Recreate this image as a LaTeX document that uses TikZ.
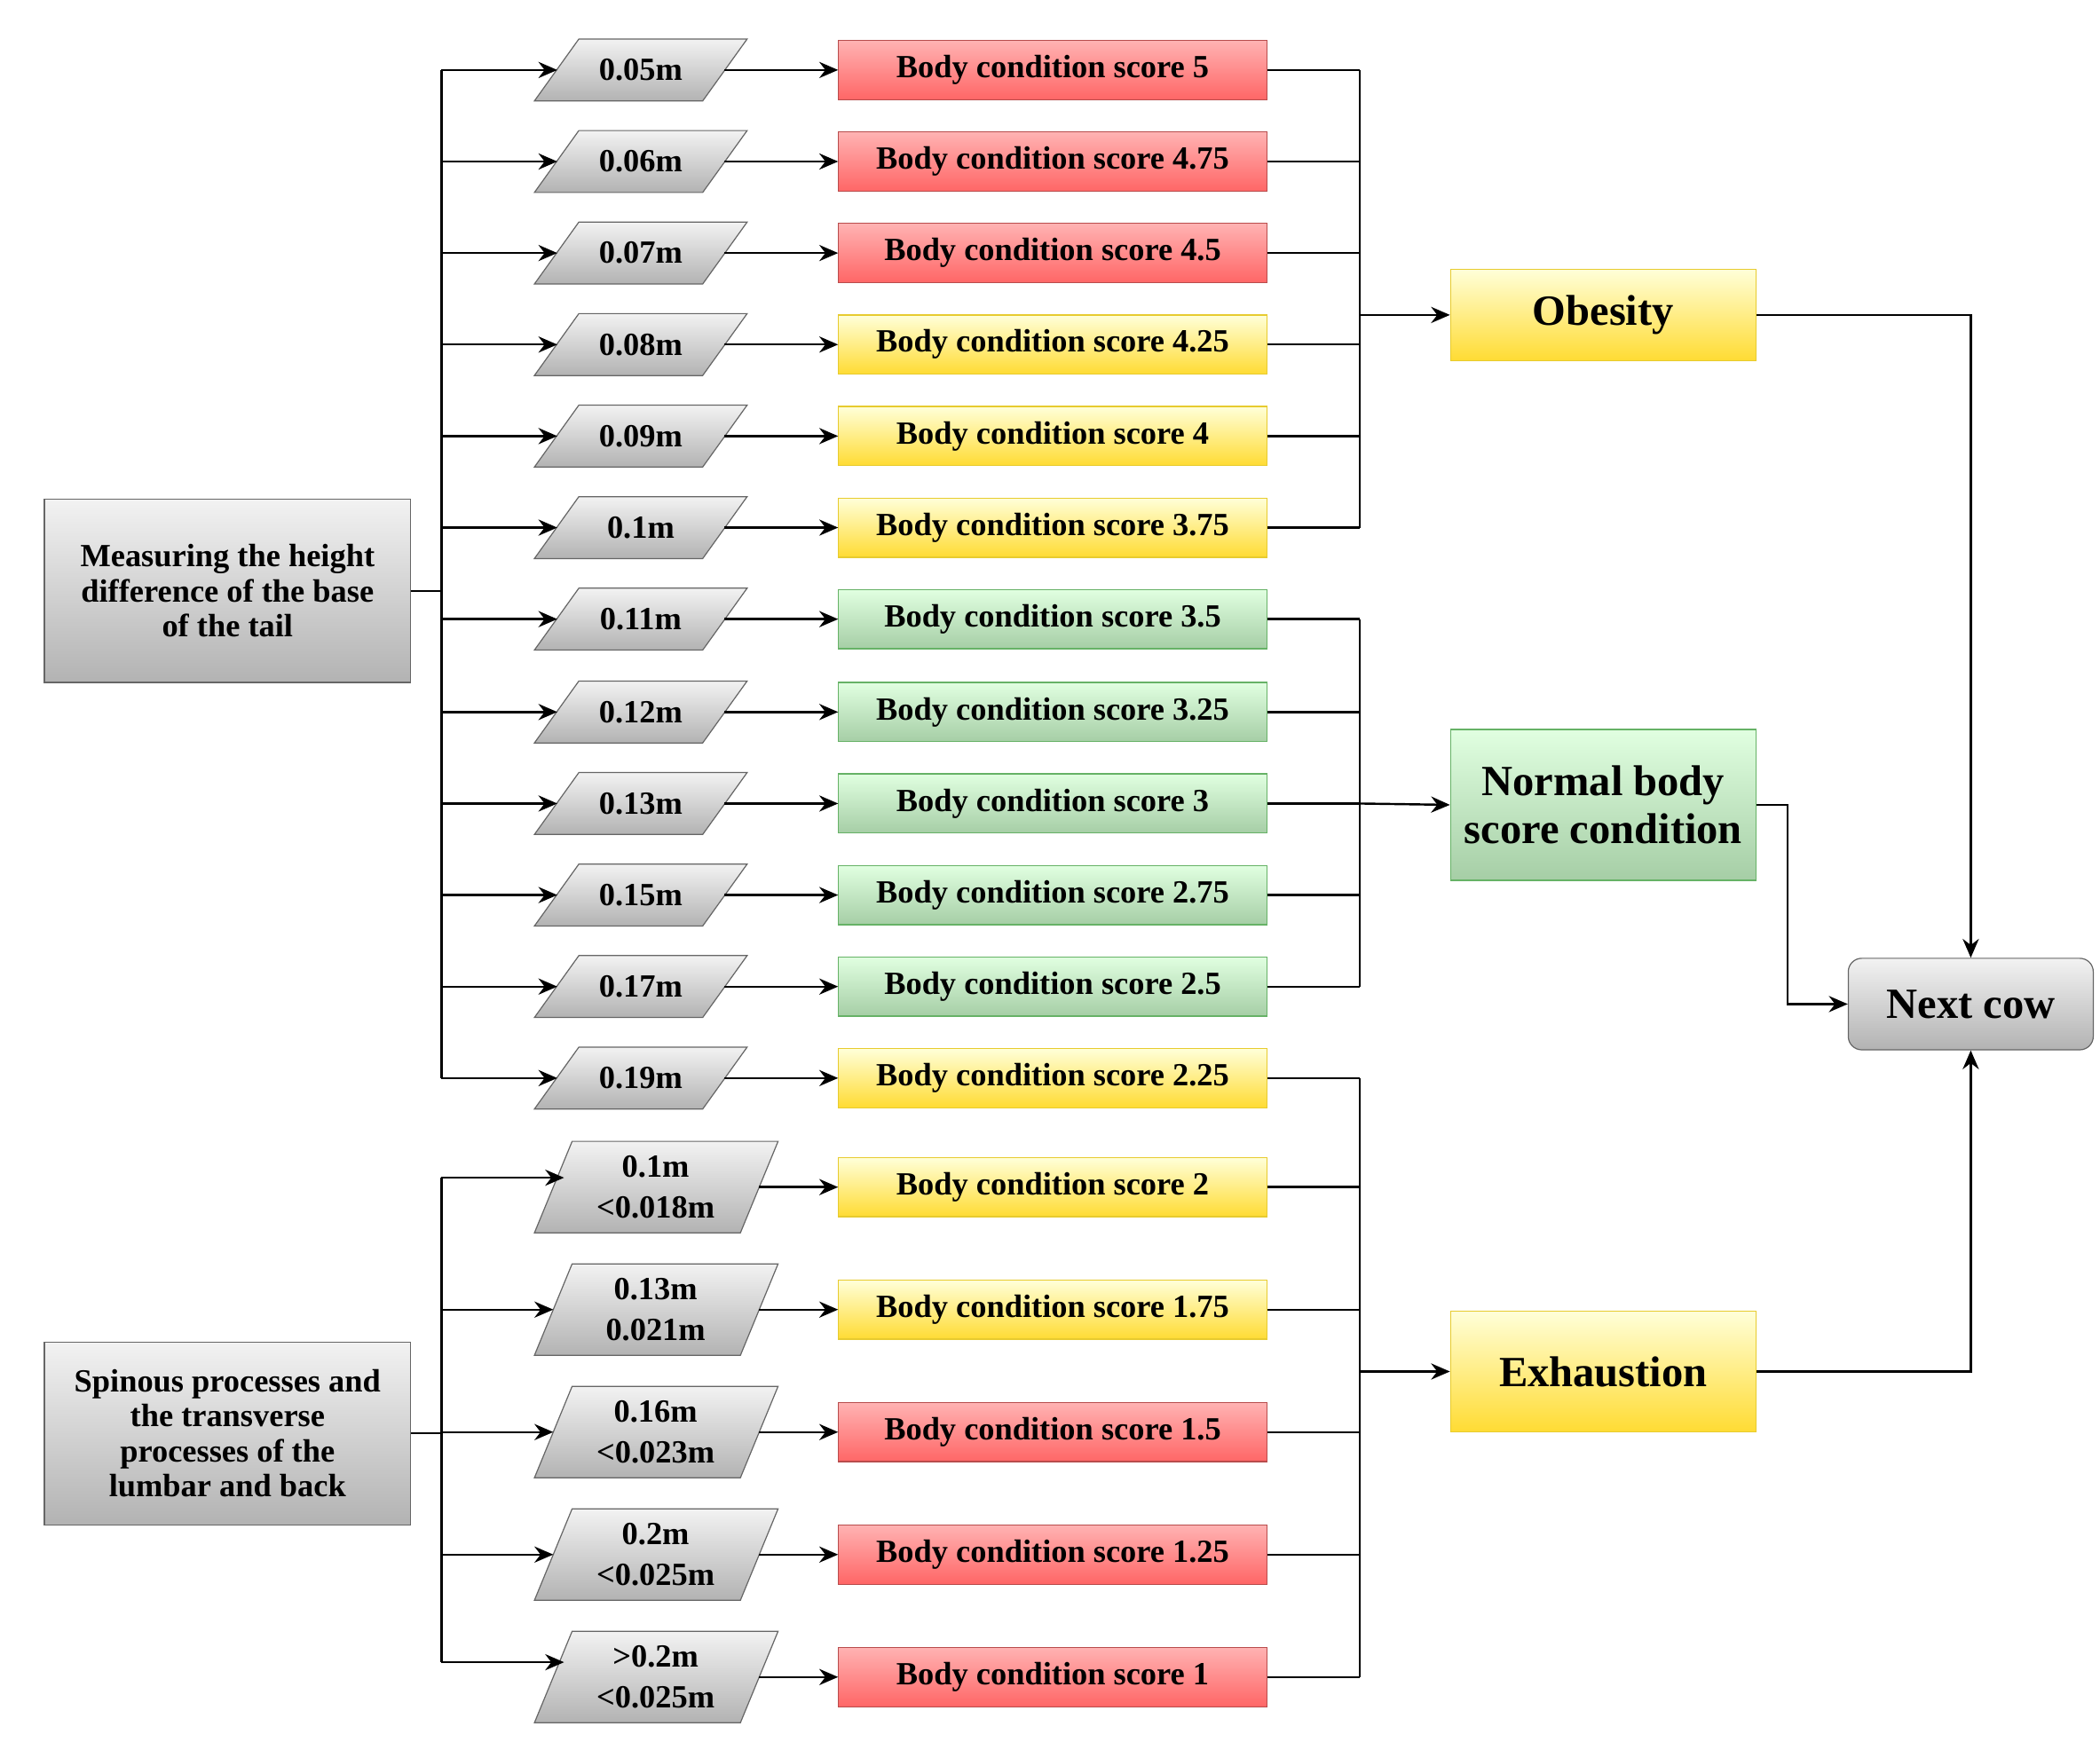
\documentclass[tikz,border=0pt]{standalone}
\usepackage{fontspec}
\setmainfont{Liberation Serif}
\usetikzlibrary{arrows.meta}
\begin{document}
\begin{tikzpicture}[x=0.5pt,y=-0.5pt,
  font=\bfseries\fontsize{12}{13}\selectfont,
  red/.style={draw=red!60!black!70, top color=red!30, bottom color=red!60!white, shading angle=0},
  ylw/.style={draw=yellow!60!brown, top color=yellow!15, bottom color=yellow!65!orange!80},
  grn/.style={draw=green!50!black!60, top color=green!12, bottom color=green!45!black!35!white},
  gry/.style={draw=black!60, top color=black!5, bottom color=black!30},
  sc/.style={minimum width=159pt, minimum height=22pt, inner sep=0pt},
  big/.style={font=\bfseries\fontsize{16}{18}\selectfont, minimum width=113.5pt, inner sep=1pt, align=center},
  arr/.style={-{Stealth[length=7pt,width=6pt]}, line width=0.8pt},
  ln/.style={line width=0.8pt}]
\useasboundingbox (0,0) rectangle (1560,1300);
% left boxes
\node[gry, minimum width=136pt, minimum height=68pt, align=center, inner sep=1pt] (m1) at (169,439) {Measuring the height\\difference of the base\\of the tail};
\node[gry, minimum width=136pt, minimum height=68pt, align=center, inner sep=1pt] (m2) at (169,1065) {Spinous processes and\\the transverse\\processes of the\\lumbar and back};
% single parallelograms
\foreach \i/\y/\t/\c in {1/52/0.05m/red,2/120/0.06m/red,3/188/0.07m/red,4/256/0.08m/ylw,5/324/0.09m/ylw,6/392/0.1m/ylw,7/460/0.11m/grn,8/529/0.12m/grn,9/597/0.13m/grn,10/665/0.15m/grn,11/733/0.17m/grn,12/801/0.19m/ylw}{
  \draw[gry] (430,\y-23) -- (555,\y-23) -- (522,\y+23) -- (397,\y+23) -- cycle;
  \node (p\i) at (476,\y) {\t};
  \coordinate (pl\i) at (414,\y);
  \coordinate (pr\i) at (538,\y);
  \coordinate (t\i) at (328,\y);
  \node[\c, sc] (b\i) at (782,\y) {Body condition score \ifcase\i\or 5\or 4.75\or 4.5\or 4.25\or 4\or 3.75\or 3.5\or 3.25\or 3\or 2.75\or 2.5\or 2.25\fi};
  \coordinate (r\i) at (1010,\y);
  \draw[arr] (t\i) -- (pl\i);
  \draw[arr] (pr\i) -- (b\i.west);
  \draw[ln] (b\i.east) -- (r\i);
}
% double parallelograms
\foreach \i/\y/\a/\b/\c/\s in {13/882/0.1m/<0.018m/ylw/2,14/973/0.13m/0.021m/ylw/1.75,15/1064/0.16m/<0.023m/red/1.5,16/1155/0.2m/<0.025m/red/1.25,17/1246/>0.2m/<0.025m/red/1}{
  \draw[gry] (425,\y-34) -- (578,\y-34) -- (550,\y+34) -- (397,\y+34) -- cycle;
  \node[align=center, inner sep=0pt] (p\i) at (487,\y) {\a\\[2pt]\b};
  \coordinate (pl\i) at (411,\y);
  \coordinate (pr\i) at (564,\y);
  \coordinate (t\i) at (328,\y);
  \node[\c, sc] (b\i) at (782,\y) {Body condition score \s};
  \coordinate (r\i) at (1010,\y);
  \draw[arr] (pr\i) -- (b\i.west);
  \draw[ln] (b\i.east) -- (r\i);
}
\coordinate (t13) at (328,875);
\coordinate (pl13) at (419,875);
\coordinate (pl17) at (419,1235);
\coordinate (t17) at (328,1235);
\foreach \i in {13,14,15,16,17}{\draw[arr] (t\i) -- (pl\i);}
% trunks
\draw[ln] (t1) -- (t12);
\draw[ln] (m1.east) -- (328,439);
\draw[ln] (t13) -- (t17);
\draw[ln] (m2.east) -- (328,1065);
\draw[ln] (r1) -- (r6);
\draw[ln] (r7) -- (r11);
\draw[ln] (r12) -- (r17);
% categories
\node[ylw, big, minimum height=34pt] (ob) at (1191,234) {Obesity};
\node[grn, big, minimum height=56pt] (nb) at (1191,598) {Normal body\\score condition};
\node[ylw, big, minimum height=45pt] (ex) at (1191,1019) {Exhaustion};
\node[gry, big, minimum width=91pt, minimum height=34pt, rounded corners=5pt] (nc) at (1464,746) {Next cow};
\draw[arr] (1010,234) -- (ob.west);
\draw[arr] (r9) -- (nb.west);
\draw[arr] (1010,1019) -- (ex.west);
\draw[arr] (ob.east) -| (nc.north);
\draw[arr] (ex.east) -| (nc.south);
\draw[arr] (nb.east) -- (1328,598) |- (nc.west);
\end{tikzpicture}
\end{document}
